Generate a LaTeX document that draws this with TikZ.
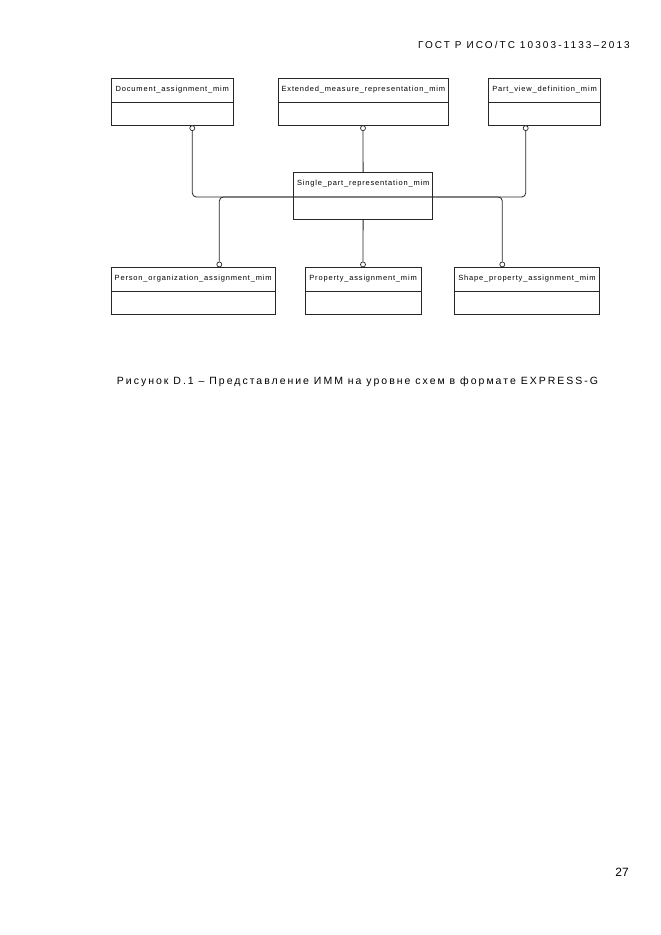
\documentclass[tikz,border=0pt]{standalone}
\usepackage{fontspec}
\setmainfont{Liberation Sans}
\usepackage{tikz}
\usetikzlibrary{positioning}
\tikzset{every picture/.style={/utils/exec={\rmfamily}}}

\begin{document}
\begin{tikzpicture}[x=1pt,y=-1pt]
  \tikzstyle{entity} = [rectangle, draw=black!85, line width=0.8pt, anchor=north west,
    minimum height=47, inner ysep=7.7, text height=5, text depth=26.6,
    font=\fontsize{7.5}{8}\selectfont\addfontfeatures{LetterSpace=11}]
  \tikzstyle{divided} = [path picture={\draw [line width=0.8pt, black!85]
    ([yshift=-23.5pt]path picture bounding box.north west) --
    ([yshift=-23.5pt]path picture bounding box.north east);}]
  \tikzstyle{ring} = [circle, draw=black!85, fill=white, line width=0.7pt,
    inner sep=0, minimum size=5]
  \tikzstyle{link} = [draw=black!85, line width=0.8pt, rounded corners=4]
  \tikzstyle{pagetext} = [inner sep=0, font=\fontsize{10}{12}\selectfont\addfontfeatures{LetterSpace=21}]

  \useasboundingbox (0,0) rectangle (661,935);

  \node (header) [pagetext, anchor=base east] at (630,48.3) {ГОСТ Р ИСО/ТС 10303-1133--2013};

  % upper row
  \node (docmim) [entity, divided, minimum width=121.7] at (111,78.3) {Document\_assignment\_mim};
  \node (extmim) [entity, divided, minimum width=170.6] at (277.7,78.3) {Extended\_measure\_representation\_mim};
  \node (pvmim) [entity, divided, minimum width=111.7] at (488.3,78.3) {Part\_view\_definition\_mim};

  % middle
  \node (spmim) [entity, minimum width=138.4] at (293.3,172.3) {Single\_part\_representation\_mim};

  % lower row
  \node (pomim) [entity, divided, minimum width=163] at (111,267.3) {Person\_organization\_assignment\_mim};
  \node (propmim) [entity, divided, minimum width=116] at (304.7,267.3) {Property\_assignment\_mim};
  \node (shpmim) [entity, divided, minimum width=145.3] at (454,267.3) {Shape\_property\_assignment\_mim};

  \node (docring) [ring, anchor=north] at (192.3,125.3) {};
  \node (extring) [ring, anchor=north] at (363,125.3) {};
  \node (pvring) [ring, anchor=north] at (525.7,125.3) {};
  \node (poring) [ring, anchor=south] at (219.3,267.3) {};
  \node (propring) [ring, anchor=south] at (363,267.3) {};
  \node (shpring) [ring, anchor=south] at (502.3,267.3) {};

  \coordinate (bus) at (363,197);

  \draw [link] (docring) |- (bus) -| (pvring);
  \draw [link] (poring) |- (bus) -| (shpring);
  \draw [link] (extring) -- (spmim);
  \draw [link] (spmim) -- (propring);

  \node (caption) [pagetext, font=\fontsize{10.5}{12}\selectfont\addfontfeatures{LetterSpace=19}, anchor=base]
    at (357.5,384.5) {Рисунок D.1 -- Представление ИММ на уровне схем в формате EXPRESS-G};
  \node (pagenum) [pagetext, font=\fontsize{12}{14}\selectfont, anchor=base east] at (629,876.5) {27};
\end{tikzpicture}
\end{document}
